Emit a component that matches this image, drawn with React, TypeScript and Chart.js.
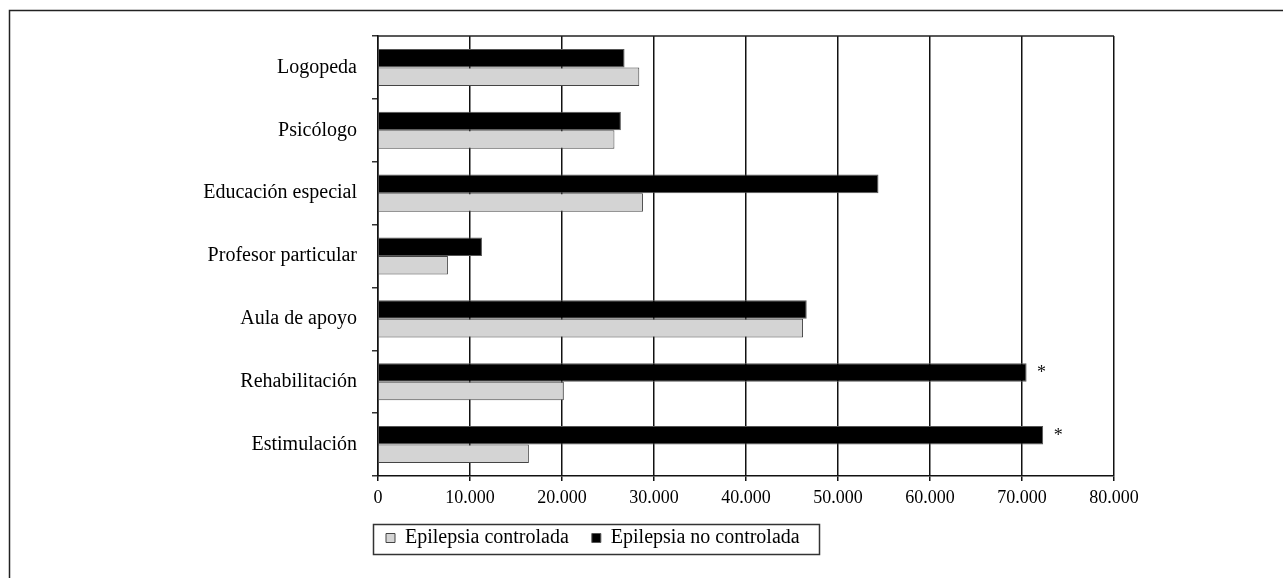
import React, { useEffect, useRef } from "react";
import { Chart, registerables } from "chart.js";

Chart.register(...registerables);

const categories = [
  "Logopeda",
  "Psicólogo",
  "Educación especial",
  "Profesor particular",
  "Aula de apoyo",
  "Rehabilitación",
  "Estimulación",
];
const seriesNames = ["Epilepsia controlada", "Epilepsia no controlada"];
const controlada = [28400, 25700, 28800, 7600, 46200, 20200, 16400];
const noControlada = [26800, 26400, 54400, 11300, 46600, 70500, 72300];
const significance = ["", "", "", "", "", "*", "*"];
const xTickLabels = ["0", "10.000", "20.000", "30.000", "40.000", "50.000", "60.000", "70.000", "80.000"];

const FONT = "'Liberation Serif', 'Times New Roman', serif";
const PLOT_BOTTOM = 476;
const Y_AXIS_WIDTH = 378;

const decor = {
  id: "decor",
  beforeDraw(chart: any) {
    const ctx = chart.ctx;
    ctx.save();
    ctx.fillStyle = "#ffffff";
    ctx.fillRect(0, 0, chart.width, chart.height);
    ctx.strokeStyle = "#222";
    ctx.lineWidth = 1.5;
    ctx.beginPath();
    ctx.moveTo(9.5, chart.height);
    ctx.lineTo(9.5, 10.5);
    ctx.lineTo(chart.width, 10.5);
    ctx.stroke();
    ctx.restore();
  },
  afterLayout(chart: any) {
    const lg = chart.legend;
    if (lg) {
      const h = lg.height;
      lg.left = 363;
      lg.top = 505;
      lg.bottom = lg.top + h;
    }
  },
  afterDraw(chart: any) {
    const ctx = chart.ctx;
    const { left, right, top } = chart.chartArea;
    ctx.save();
    ctx.strokeStyle = "#222";
    ctx.lineWidth = 1.5;
    ctx.beginPath();
    ctx.moveTo(left, top);
    ctx.lineTo(right, top);
    ctx.stroke();

    // significance marks
    const meta = chart.getDatasetMeta(0);
    ctx.fillStyle = "#111";
    ctx.font = "18px " + FONT;
    ctx.textAlign = "center";
    ctx.textBaseline = "middle";
    meta.data.forEach((bar: any, i: number) => {
      if (significance[i]) ctx.fillText(significance[i], bar.x + 15, bar.y + 1);
    });

    // legend frame
    const lg = chart.legend;
    if (lg && lg.legendHitBoxes && lg.legendHitBoxes.length) {
      const hb = lg.legendHitBoxes;
      const first = hb[0];
      const last = hb[hb.length - 1];
      const x0 = first.left - 13;
      const x1 = last.left + last.width + 19;
      const y0 = first.top - 4;
      const y1 = first.top + first.height + 6;
      ctx.lineWidth = 1.5;
      ctx.strokeStyle = "#333";
      ctx.strokeRect(Math.round(x0) + 0.5, Math.round(y0) + 0.5, Math.round(x1 - x0), Math.round(y1 - y0));
    }
    ctx.restore();
  },
};

export default function App() {
  const ref = useRef<HTMLCanvasElement>(null);
  useEffect(() => {
    if (!ref.current) return;
    const chart = new Chart(ref.current, {
      type: "bar",
      data: {
        labels: categories,
        datasets: [
          {
            label: seriesNames[1],
            data: noControlada,
            backgroundColor: "#000000",
            borderColor: "#555555",
            borderWidth: 1,
            categoryPercentage: 0.59,
            barPercentage: 1,
          },
          {
            label: seriesNames[0],
            data: controlada,
            backgroundColor: "#d4d4d4",
            borderColor: "#444444",
            borderWidth: 1,
            categoryPercentage: 0.59,
            barPercentage: 1,
          },
        ],
      },
      options: {
        indexAxis: "y",
        animation: false,
        responsive: false,
        layout: { padding: { left: 0, top: 36, right: 169, bottom: 0 } },
        scales: {
          x: {
            min: 0,
            max: 80000,
            ticks: {
              stepSize: 10000,
              autoSkip: false,
              maxRotation: 0,
              padding: 6,
              color: "#000",
              font: { family: FONT, size: 18 },
              callback: (_v: any, i: number) => xTickLabels[i],
            },
            grid: { color: "#111", lineWidth: 1.5, tickLength: 5, drawTicks: true },
            border: { display: true, color: "#111", width: 1.5 },
            afterFit: (scale: any) => {
              const lg = scale.chart.legend;
              scale.height = scale.chart.height - PLOT_BOTTOM - (lg ? lg.height : 0);
            },
          },
          y: {
            ticks: {
              padding: 15,
              color: "#000",
              font: { family: FONT, size: 20 },
            },
            grid: {
              drawOnChartArea: false,
              drawTicks: true,
              tickLength: 6,
              color: "#333",
              lineWidth: 1.5,
              offset: true,
            },
            border: { display: true, color: "#111", width: 1.5 },
            afterFit: (scale: any) => {
              scale.width = Y_AXIS_WIDTH;
            },
          },
        },
        plugins: {
          legend: {
            position: "bottom",
            align: "start",
            reverse: true,
            labels: {
              boxWidth: 9,
              boxHeight: 9,
              padding: 23,
              color: "#000",
              font: { family: FONT, size: 20 },
            },
          },
          tooltip: { enabled: false },
        },
      } as any,
      plugins: [decor],
    });
    return () => chart.destroy();
  }, []);
  return (
    <canvas
      ref={ref}
      width={1283}
      height={578}
      style={{ position: "absolute", left: 0, top: 0, width: 1283, height: 578 }}
    />
  );
}
